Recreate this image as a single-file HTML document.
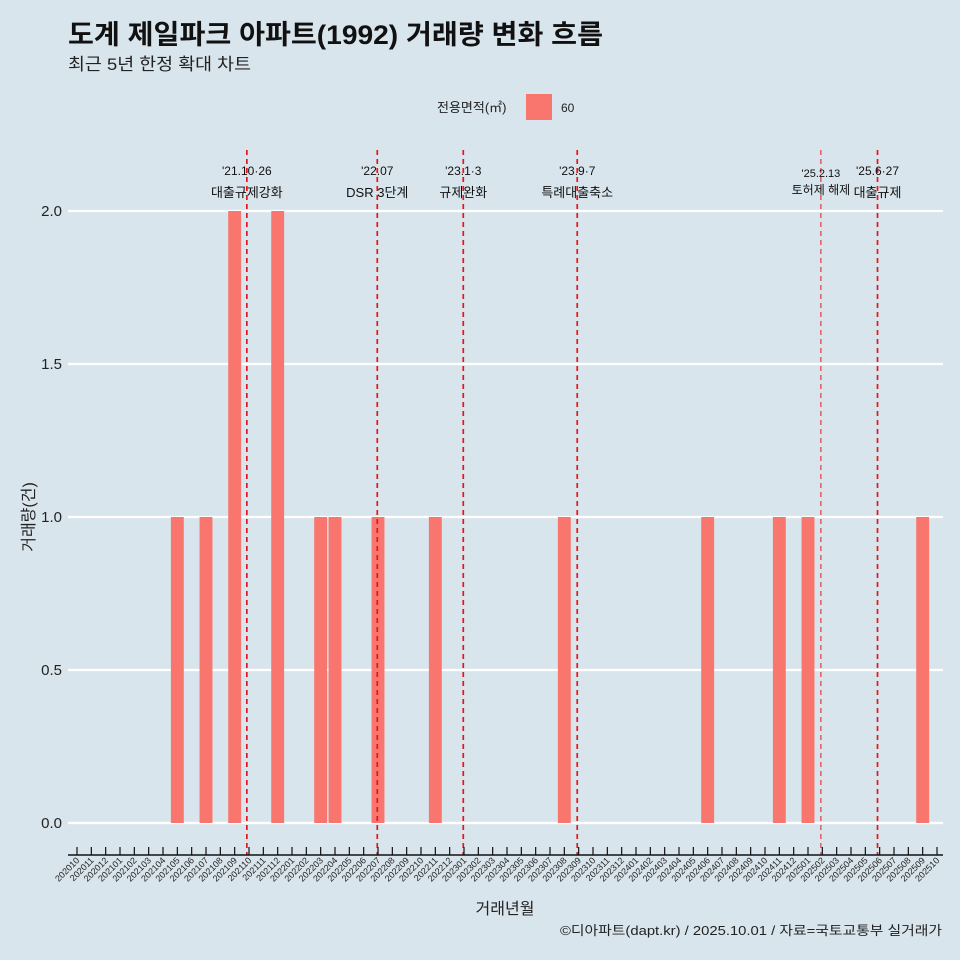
<!DOCTYPE html>
<html><head><meta charset="utf-8"><style>
body{margin:0;background:#d9e5ec;}
svg{display:block;font-family:"Liberation Sans","Noto Sans CJK KR",sans-serif;}
</style></head><body>
<svg id="c" width="960" height="960" viewBox="0 0 960 960">
<rect width="960" height="960" fill="#d9e5ec"/>
<text x="68" y="44" font-size="27" font-weight="bold" fill="#111" textLength="535" lengthAdjust="spacingAndGlyphs">도계 제일파크 아파트(1992) 거래량 변화 흐름</text>
<text x="68" y="70" font-size="17" fill="#222" textLength="183" lengthAdjust="spacingAndGlyphs">최근 5년 한정 확대 차트</text>
<g>
<text x="437" y="112" font-size="13" fill="#222">전용면적(㎡)</text>
<rect x="526" y="94" width="26" height="26" fill="#f8766d"/>
<text x="561" y="112" font-size="12" fill="#222">60</text>
</g>
<g id="grid"></g><g id="bars"></g><g id="events"></g><g id="xaxis"></g><g id="yaxis"></g>
<text x="505" y="914" font-size="16" text-anchor="middle" fill="#222">거래년월</text>
<text transform="translate(34,517) rotate(-90)" font-size="16" text-anchor="middle" fill="#222">거래량(건)</text>
<text x="942" y="935" font-size="13" text-anchor="end" fill="#222" textLength="382" lengthAdjust="spacingAndGlyphs">©디아파트(dapt.kr) / 2025.10.01 / 자료=국토교통부 실거래가</text>
</svg>
<script>
const months=[];for(let y=2020,m=10;!(y===2025&&m===11);){months.push(y+String(m).padStart(2,'0'));m++;if(m>12){m=1;y++;}}
const barMonths=["202105","202107","202109","202112","202203","202204","202207","202211","202308","202406","202411","202501","202509"];
const barValues=[1,1,2,2,1,1,1,1,1,1,1,1,1];
const yTicks=[0,0.5,1,1.5,2];
const yTickLabels=["0.0","0.5","1.0","1.5","2.0"];
const eventMonths=[11.85,20.95,26.95,34.9,51.9,55.85];
const eventDates=["'21.10·26","'22.07","'23.1·3","'23.9·7","'25.2.13","'25.6·27"];
const eventNames=["대출규제강화","DSR 3단계","규제완화","특례대출축소","토허제 해제","대출규제"];
const NS="http://www.w3.org/2000/svg";
const X=i=>77+i*(860/60), Y=v=>823-v*306;
function mk(t,a,p){const e=document.createElementNS(NS,t);for(const k in a)e.setAttribute(k,a[k]);document.getElementById(p).appendChild(e);return e;}
yTicks.forEach((v,i)=>{
 const l=mk('line',{x1:68,x2:943,y1:Y(v),y2:Y(v),stroke:'#fff','stroke-width':2.2},'grid');
 
 
 const t=mk('text',{x:62,y:Y(v)+5,'font-size':15,'text-anchor':'end',fill:'#222'},'yaxis');t.textContent=yTickLabels[i];
 
 
});
barMonths.forEach((m,i)=>{
 const idx=months.indexOf(m),w=12.9;
 const r=mk('rect',{x:X(idx)-w/2,y:Y(barValues[i]),width:w,height:Y(0)-Y(barValues[i]),fill:'#f8766d'},'bars');
 
 
});
eventMonths.forEach((e,i)=>{
 const x=X(e),thin=i===4;
 const l=mk('line',{x1:x,x2:x,y1:150,y2:855,stroke:'#e8141c','stroke-width':thin?1:1.7,'stroke-dasharray':'5,4'},'events');
 
 
 const fs=thin?11:12;
 const a=mk('text',{x:x,y:thin?177:175,'font-size':fs,'text-anchor':'middle',fill:'#111'},'events');a.textContent=eventDates[i];
 
 
 const b=mk('text',{x:x,y:thin?194:197,'font-size':fs+1,'text-anchor':'middle',fill:'#111'},'events');b.textContent=eventNames[i];
 
 
});
const ax=mk('line',{x1:68,x2:943,y1:855,y2:855,stroke:'#111','stroke-width':1.5},'xaxis');


months.forEach((m,i)=>{
 const x=X(i);
 const tk=mk('line',{x1:x,x2:x,y1:847,y2:855,stroke:'#111','stroke-width':1.2},'xaxis');
 
 
 const t=mk('text',{transform:`translate(${x+3},861) rotate(-45)`,'font-size':9,'text-anchor':'end',fill:'#222'},'xaxis');t.textContent=m;
 
 
});
</script>
</body></html>
